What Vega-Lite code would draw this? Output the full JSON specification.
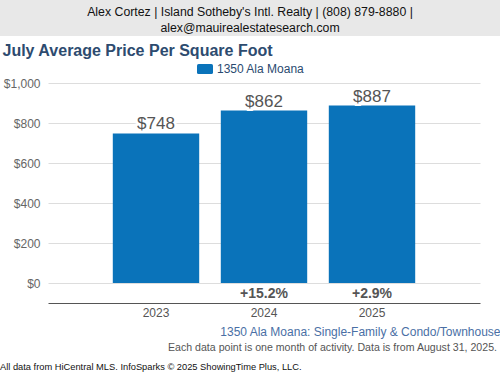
{
  "$schema": "https://vega.github.io/schema/vega-lite/v6.json",
  "width": 432,
  "height": 220,
  "autosize": {"type": "none"},
  "padding": {"left": 48, "top": 83, "right": 20, "bottom": 72},
  "background": "white",
  "config": {"font": "Liberation Sans", "view": {"stroke": null}},
  "datasets": {
    "bars": [
      {"year": "2023", "value": 748, "label": "$748", "change": "", "series": "1350 Ala Moana"},
      {"year": "2024", "value": 862, "label": "$862", "change": "+15.2%", "series": "1350 Ala Moana"},
      {"year": "2025", "value": 887, "label": "$887", "change": "+2.9%", "series": "1350 Ala Moana"}
    ],
    "notes": [
      {"header": ["Alex Cortez | Island Sotheby's Intl. Realty | (808) 879-8880 |", "alex@mauirealestatesearch.com"],
       "note1": "Each data point is one month of activity. Data is from August 31, 2025.",
       "note2": "All data from HiCentral MLS. InfoSparks © 2025 ShowingTime Plus, LLC."}
    ]
  },
  "layer": [
    {
      "data": {"name": "notes"},
      "mark": {"type": "rect", "color": "#e8e8e8"},
      "encoding": {
        "x": {"value": -48}, "x2": {"value": 452},
        "y": {"value": -83}, "y2": {"value": -47}
      }
    },
    {
      "data": {"name": "notes"},
      "mark": {"type": "text", "align": "center", "baseline": "middle", "fontSize": 12.3, "color": "#111", "lineHeight": 16},
      "encoding": {
        "x": {"value": 202}, "y": {"value": -71},
        "text": {"field": "header"}
      }
    },
    {
      "data": {"name": "notes"},
      "mark": {"type": "text", "align": "right", "baseline": "middle", "fontSize": 10.6, "color": "#555"},
      "encoding": {
        "x": {"value": 449}, "y": {"value": 265},
        "text": {"field": "note1"}
      }
    },
    {
      "data": {"name": "notes"},
      "mark": {"type": "text", "align": "left", "baseline": "middle", "fontSize": 9.3, "color": "#111"},
      "encoding": {
        "x": {"value": -48}, "y": {"value": 284},
        "text": {"field": "note2"}
      }
    },
    {
      "data": {"name": "bars"},
      "mark": {"type": "bar"},
      "encoding": {
        "x": {
          "field": "year", "type": "ordinal",
          "scale": {"paddingInner": 0.2, "paddingOuter": 0.6},
          "axis": {
            "title": "1350 Ala Moana: Single-Family & Condo/Townhouse",
            "titleColor": "#4a6fa5", "titleFontSize": 12, "titleFontWeight": "normal",
            "titleX": 452, "titleY": 28, "titleAlign": "right", "titleBaseline": "middle", "titleAnchor": "end",
            "labelAngle": 0, "labelFontSize": 12, "labelColor": "#555", "labelPadding": 4,
            "ticks": false, "domainColor": "#555", "domainWidth": 1
          }
        },
        "y": {
          "field": "value", "type": "quantitative",
          "scale": {"domain": [-100, 1000], "nice": false, "zero": false},
          "axis": {
            "title": "July Average Price Per Square Foot",
            "titleAngle": 0, "titleX": -46, "titleY": -33, "titleAlign": "left", "titleBaseline": "middle",
            "titleFontSize": 16, "titleFontWeight": "bold", "titleColor": "#2d4b6f",
            "values": [0, 200, 400, 600, 800, 1000], "format": "$,.0f",
            "labelFontSize": 12, "labelColor": "#666", "labelPadding": 8,
            "domain": false, "ticks": false, "gridColor": "#dddddd"
          }
        },
        "y2": {"datum": 0},
        "color": {
          "field": "series", "type": "nominal",
          "scale": {"range": ["#0a73ba"]},
          "legend": {
            "title": null, "orient": "none", "legendX": 149, "legendY": -22,
            "symbolType": "M-0.8,-0.625 L0.8,-0.625 Q1,-0.625 1,-0.425 L1,0.425 Q1,0.625 0.8,0.625 L-0.8,0.625 Q-1,0.625 -1,0.425 L-1,-0.425 Q-1,-0.625 -0.8,-0.625 Z",
            "symbolSize": 256, "symbolStrokeWidth": 0,
            "labelOffset": 4, "labelFontSize": 12, "labelColor": "#2a4a70", "padding": 0
          }
        }
      }
    },
    {
      "data": {"name": "bars"},
      "mark": {"type": "text", "baseline": "alphabetic", "dy": -4, "fontSize": 17, "color": "white", "stroke": "white", "strokeWidth": 5},
      "encoding": {
        "x": {"field": "year", "type": "ordinal"},
        "y": {"field": "value", "type": "quantitative"},
        "text": {"field": "label"}
      }
    },
    {
      "data": {"name": "bars"},
      "mark": {"type": "text", "baseline": "alphabetic", "dy": -4, "fontSize": 17, "color": "#555"},
      "encoding": {
        "x": {"field": "year", "type": "ordinal"},
        "y": {"field": "value", "type": "quantitative"},
        "text": {"field": "label"}
      }
    },
    {
      "data": {"name": "bars"},
      "transform": [{"filter": "datum.change != ''"}],
      "mark": {"type": "text", "baseline": "middle", "fontSize": 14, "fontWeight": "bold", "color": "#555"},
      "encoding": {
        "x": {"field": "year", "type": "ordinal"},
        "y": {"datum": -55},
        "text": {"field": "change"}
      }
    }
  ]
}
